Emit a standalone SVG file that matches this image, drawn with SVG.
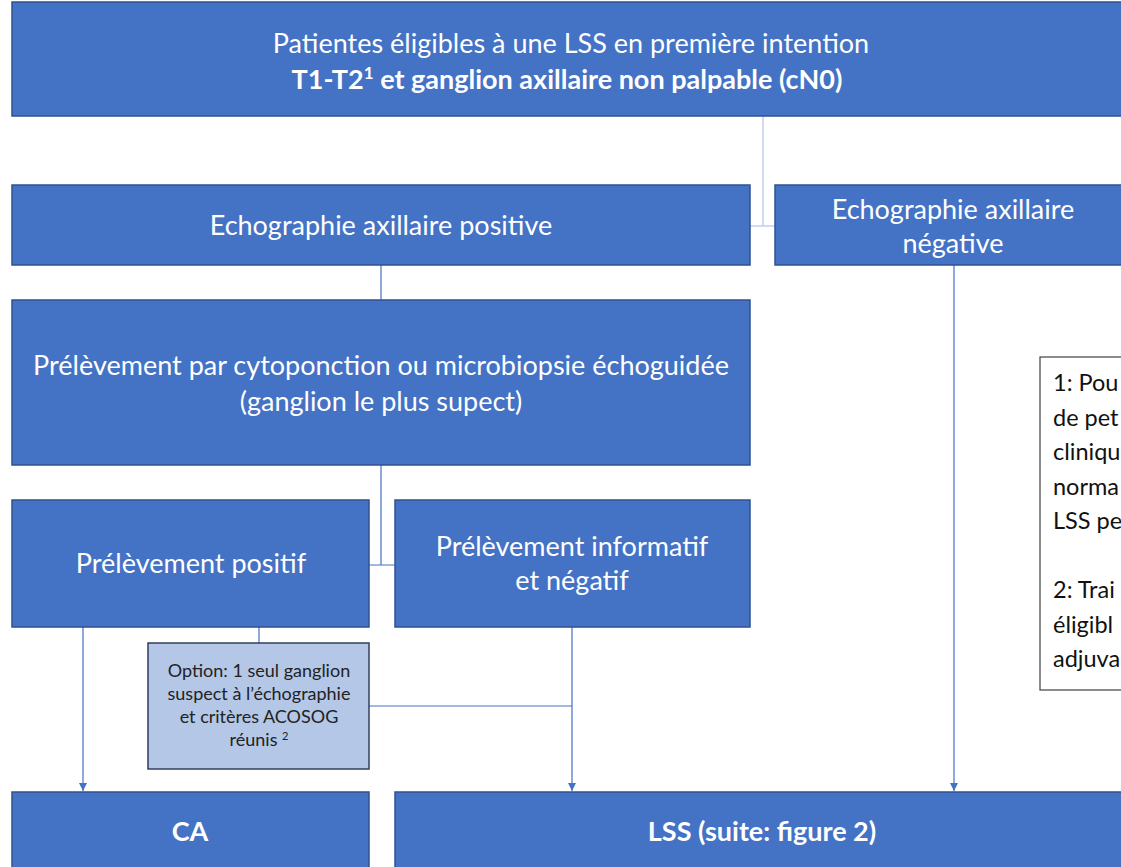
<svg xmlns="http://www.w3.org/2000/svg" width="1121" height="867" viewBox="0 0 1121 867">
  <style>
    .box { fill: #4472C4; stroke: #2F528F; stroke-width: 1.5; }
    .opt { fill: #B4C7E7; stroke: #2F3F5F; stroke-width: 1.5; }
    .note { fill: #FFFFFF; stroke: #404040; stroke-width: 1.2; }
    .t { font-family: Lato, "Open Sans", sans-serif; font-size: 27px; fill: #FFFFFF; text-anchor: middle; }
    .b { font-weight: bold; }
    .ot { font-family: Lato, "Open Sans", sans-serif; font-size: 18px; fill: #222222; text-anchor: middle; }
    .nt { font-family: Lato, "Open Sans", sans-serif; font-size: 23.5px; fill: #111111; }
    .lk { fill: none; stroke: #4472C4; stroke-width: 1.2; }
    .lk-light { fill: none; stroke: #C0D0EC; stroke-width: 1.5; }
  </style>
  <defs>
    <marker id="arrow" viewBox="0 0 10 10" refX="10" refY="5" markerWidth="8" markerHeight="8" markerUnits="userSpaceOnUse" orient="auto">
      <path d="M0,0 L10,5 L0,10 Z" fill="#4472C4"/>
    </marker>
  </defs>
  <rect width="1121" height="867" fill="#FFFFFF"/>

  <!-- connectors -->
  <g id="connectors">
    <path class="lk-light" d="M763,116 V226 H750 M763,226 H775"/>
    <path class="lk" d="M381,265 V300"/>
    <path class="lk" d="M381,465 V565 M369,565 H395"/>
    <path class="lk" d="M83,627 V791" marker-end="url(#arrow)"/>
    <path class="lk" d="M259,627 V643"/>
    <path class="lk" d="M369,706 H572"/>
    <path class="lk" d="M572,627 V791" marker-end="url(#arrow)"/>
    <path class="lk" d="M954,265 V791" marker-end="url(#arrow)"/>
  </g>

  <g id="n-patientes">
    <rect class="box" x="12" y="2" width="1120" height="114"/>
    <text class="t" x="571" y="53">Patientes éligibles à une LSS en première intention</text>
    <text class="t b" x="567" y="89">T1-T2<tspan font-size="17" baseline-shift="super">1</tspan> et ganglion axillaire non palpable (cN0)</text>
  </g>

  <g id="n-echo-pos">
    <rect class="box" x="12" y="185" width="738" height="80"/>
    <text class="t" x="381" y="235">Echographie axillaire positive</text>
  </g>

  <g id="n-echo-neg">
    <rect class="box" x="775" y="185" width="360" height="80"/>
    <text class="t" x="953" y="219">Echographie axillaire</text>
    <text class="t" x="953" y="253">négative</text>
  </g>

  <g id="n-prelevement">
    <rect class="box" x="12" y="300" width="738" height="165"/>
    <text class="t" x="381" y="375">Prélèvement par cytoponction ou microbiopsie échoguidée</text>
    <text class="t" x="381" y="411">(ganglion le plus supect)</text>
  </g>

  <g id="n-positif">
    <rect class="box" x="12" y="500" width="357" height="127"/>
    <text class="t" x="191" y="573">Prélèvement positif</text>
  </g>

  <g id="n-negatif">
    <rect class="box" x="395" y="500" width="355" height="127"/>
    <text class="t" x="572" y="556">Prélèvement informatif</text>
    <text class="t" x="572" y="590">et négatif</text>
  </g>

  <g id="n-option">
    <rect class="opt" x="148" y="643" width="221" height="126"/>
    <text class="ot" x="259" y="677">Option: 1 seul ganglion</text>
    <text class="ot" x="259" y="700">suspect à l’échographie</text>
    <text class="ot" x="259" y="723">et critères ACOSOG</text>
    <text class="ot" x="259" y="746">réunis <tspan font-size="11" baseline-shift="super">2</tspan></text>
  </g>

  <g id="n-note">
    <rect class="note" x="1040" y="357" width="100" height="333"/>
    <text class="nt" x="1053" y="391">1: Pou</text>
    <text class="nt" x="1053" y="426">de pet</text>
    <text class="nt" x="1053" y="460">cliniqu</text>
    <text class="nt" x="1053" y="495">norma</text>
    <text class="nt" x="1053" y="529">LSS pe</text>
    <text class="nt" x="1053" y="598">2: Trai</text>
    <text class="nt" x="1053" y="633">éligibl</text>
    <text class="nt" x="1053" y="667">adjuva</text>
  </g>

  <g id="n-ca">
    <rect class="box" x="12" y="792" width="357" height="90"/>
    <text class="t b" x="190" y="841">CA</text>
  </g>

  <g id="n-lss">
    <rect class="box" x="395" y="792" width="740" height="90"/>
    <text class="t b" x="762" y="841">LSS (suite: figure 2)</text>
  </g>
</svg>
